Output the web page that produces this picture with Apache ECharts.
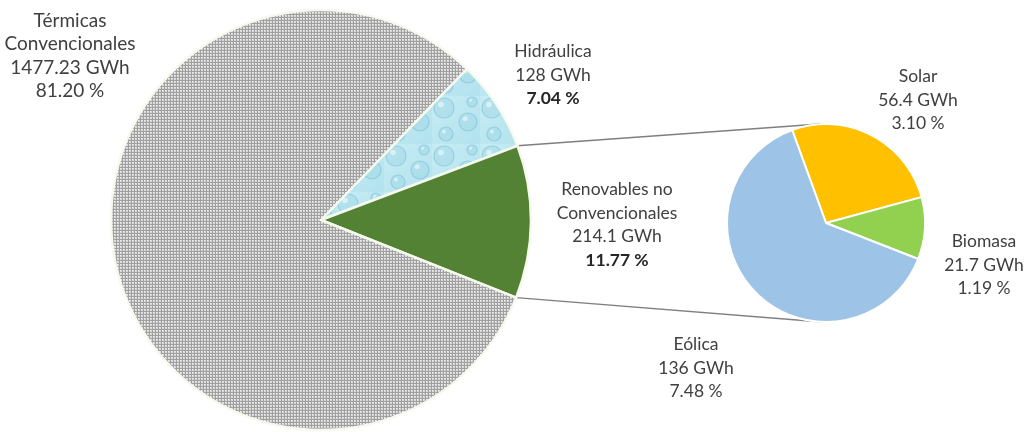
<!DOCTYPE html>
<html>
<head>
<meta charset="utf-8">
<script src="https://cdn.jsdelivr.net/npm/echarts@6/dist/echarts.min.js"></script>
<style>
html,body{margin:0;padding:0;background:#fff;}
#chart{width:1033px;height:432px;}
</style>
</head>
<body>
<div id="chart"></div>
<script>
// ---- data ----
const mainNames = ['Hidráulica', 'Renovables no\nConvencionales', 'Térmicas\nConvencionales'];
const mainValues = [128, 214.1, 1477.23];
const subNames = ['Solar', 'Biomasa', 'Eólica'];
const subValues = [56.4, 21.7, 136];

// ---- layout / style ----
const MAIN_C = [321, 220], MAIN_R = 210, MAIN_START = 46;
const SUB_C = [826, 223], SUB_R = 99, SUB_START = 110;
const labelPos = {
  'Hidráulica': [553, 75],
  'Renovables no\nConvencionales': [617, 225],
  'Térmicas\nConvencionales': [70, 56],
  'Solar': [918, 100],
  'Biomasa': [984, 265],
  'Eólica': [696, 368]
};
const labelSize = {'Térmicas\nConvencionales': 19};
const boldPct = {'Hidráulica': true, 'Renovables no\nConvencionales': true};
const FONT = 'Lato';
const total = mainValues.reduce((a, b) => a + b, 0);

function makePattern(draw, w, h) {
  const c = document.createElement('canvas');
  c.width = w; c.height = h;
  draw(c.getContext('2d'));
  return c;
}
const grayTile = makePattern(ctx => {
  ctx.fillStyle = '#d8d8d8'; ctx.fillRect(0, 0, 3, 3);
  ctx.fillStyle = '#a0a0a0';
  ctx.fillRect(0, 2, 3, 1); ctx.fillRect(2, 0, 1, 3);
  ctx.fillStyle = '#f0f0f0'; ctx.fillRect(0, 0, 1, 1);
}, 3, 3);
const waterTile = makePattern(ctx => {
  const g = ctx.createLinearGradient(0, 0, 48, 48);
  g.addColorStop(0, '#c6ecf4'); g.addColorStop(1, '#b2e2ee');
  ctx.fillStyle = g; ctx.fillRect(0, 0, 48, 48);
  const drops = [[12, 12, 10], [36, 26, 9], [14, 38, 7], [40, 6, 5]];
  drops.forEach(([x, y, r]) => {
    ctx.beginPath(); ctx.arc(x, y, r, 0, Math.PI * 2);
    ctx.fillStyle = 'rgba(150,208,225,0.35)'; ctx.fill();
    ctx.strokeStyle = 'rgba(115,180,202,0.45)'; ctx.lineWidth = 1.2; ctx.stroke();
    ctx.beginPath(); ctx.arc(x - r * 0.3, y - r * 0.35, r * 0.28, 0, Math.PI * 2);
    ctx.fillStyle = 'rgba(240,252,255,0.6)'; ctx.fill();
  });
}, 48, 48);

const mainColors = [{image: waterTile, repeat: 'repeat'}, '#548235', {image: grayTile, repeat: 'repeat'}];
const subColors = ['#ffc000', '#92d050', '#9dc3e6'];

function labelFmt(p) {
  const pct = (p.value / total * 100).toFixed(2) + ' %';
  const lines = p.name.split('\n').map(s => '{n|' + s + '}');
  lines.push('{n|' + p.value + ' GWh}');
  lines.push((boldPct[p.name] ? '{b|' : '{n|') + pct + '}');
  return lines.join('\n');
}
function rich(size) {
  return {
    n: {fontFamily: FONT, fontSize: size, color: '#404040', lineHeight: 23.5, align: 'center'},
    b: {fontFamily: FONT, fontSize: size, color: '#262626', fontWeight: 'bold', lineHeight: 23.5, align: 'center'}
  };
}
function layoutFn(names) {
  return function (params) {
    const pos = labelPos[names[params.dataIndex]];
    return {x: pos[0], y: pos[1], align: 'center', verticalAlign: 'middle'};
  };
}

// connector lines from edges of the split slice to top/bottom of sub pie
const deg = Math.PI / 180;
const aTop = MAIN_START - mainValues[0] / total * 360;
const aBot = aTop - mainValues[1] / total * 360;
function pt(c, r, a) { return [c[0] + r * Math.cos(a * deg), c[1] - r * Math.sin(a * deg)]; }
const pTop = pt(MAIN_C, MAIN_R, aTop), pBot = pt(MAIN_C, MAIN_R, aBot);

function buildData(names, values, colors) {
  return names.map((n, i) => ({
    name: n, value: values[i], itemStyle: {color: colors[i]},
    label: {rich: rich(labelSize[n] || 17.5)}
  }));
}

const chart = echarts.init(document.getElementById('chart'), null, {renderer: 'canvas'});
chart.setOption({
  animation: false,
  backgroundColor: '#ffffff',
  graphic: [
    {type: 'line', z: 0, shape: {x1: pTop[0], y1: pTop[1], x2: SUB_C[0] - 6, y2: SUB_C[1] - SUB_R}, style: {stroke: '#7f7f7f', lineWidth: 1.5}},
    {type: 'line', z: 0, shape: {x1: pBot[0], y1: pBot[1], x2: SUB_C[0] - 4, y2: SUB_C[1] + SUB_R}, style: {stroke: '#7f7f7f', lineWidth: 1.5}}
  ],
  series: [
    {
      type: 'pie', center: MAIN_C, radius: MAIN_R, startAngle: MAIN_START,
      silent: true, z: 2,
      data: buildData(mainNames, mainValues, mainColors),
      itemStyle: {borderColor: '#f6faee', borderWidth: 2.5},
      label: {show: true, position: 'inside', overflow: 'none', formatter: labelFmt},
      labelLine: {show: false},
      labelLayout: layoutFn(mainNames)
    },
    {
      type: 'pie', center: SUB_C, radius: SUB_R, startAngle: SUB_START,
      silent: true, z: 2,
      data: buildData(subNames, subValues, subColors),
      itemStyle: {borderColor: '#ffffff', borderWidth: 2},
      label: {show: true, position: 'inside', overflow: 'none', formatter: labelFmt},
      labelLine: {show: false},
      labelLayout: layoutFn(subNames)
    }
  ]
});
</script>
</body>
</html>
